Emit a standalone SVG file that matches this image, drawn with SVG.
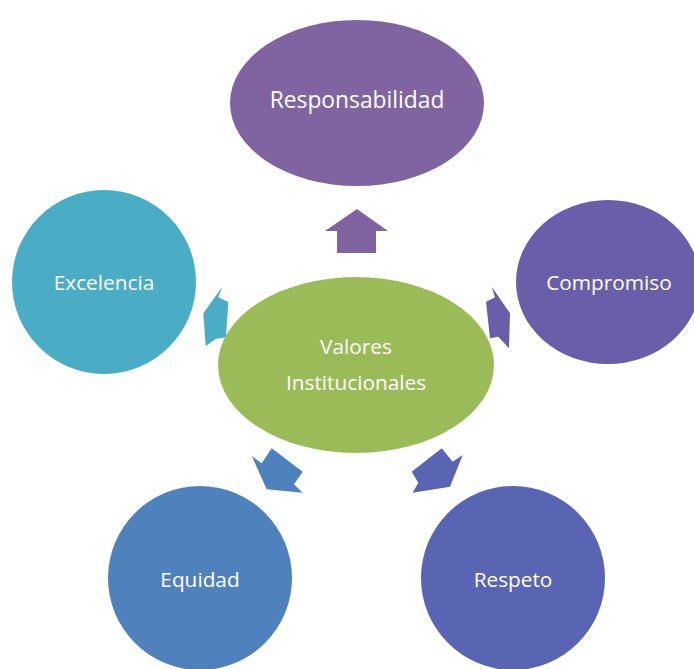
<svg xmlns="http://www.w3.org/2000/svg" width="694" height="669" viewBox="0 0 694 669">
  <style>
    .lbl { font-family: "Open Sans", "Liberation Sans", sans-serif; font-size: 20.8px; fill: #ffffff; text-anchor: middle; dominant-baseline: central; }
    .big { font-size: 22.8px; }
  </style>
  <rect width="694" height="669" fill="#ffffff"/>

  <!-- connectors: block arrows radiating from the centre -->
  <g id="connectors">
    <polygon fill="#8064A2" points="357,209 388,231 376,231 376,253 337,253 337,231 325,231"/>
    <polygon fill="#6A5DAA" points="491.7,286.7 495,297.3 486,301.7 490,338.3 498.3,336.7 509,348.3 510,313.3"/>
    <polygon fill="#4BACC6" points="222.3,286.7 218.3,297.3 228.3,302 226,337.3 216,338.7 205.7,346 203.3,313.3"/>
    <polygon fill="#4F81BD" points="271.7,448.3 302.7,471.7 294,484.3 302.7,492.7 266.7,489.3 251.7,456 261.7,463.3"/>
    <polygon fill="#5965B3" points="441.7,448.3 452.7,461.7 462.7,455 450,486.7 412.7,492.7 418.3,482.7 411.7,471.7"/>
  </g>

  <g id="responsabilidad">
    <ellipse cx="357" cy="103" rx="127" ry="83" fill="#8064A2"/>
    <text class="lbl big" x="357" y="99">Responsabilidad</text>
  </g>

  <g id="compromiso">
    <ellipse cx="608" cy="282" rx="92" ry="82" fill="#6A5DAA"/>
    <text class="lbl" x="609" y="282">Compromiso</text>
  </g>

  <g id="excelencia">
    <circle cx="104" cy="282" r="92" fill="#4BACC6"/>
    <text class="lbl" x="104" y="282">Excelencia</text>
  </g>

  <g id="equidad">
    <circle cx="200" cy="578" r="92" fill="#4F81BD"/>
    <text class="lbl" x="200" y="579">Equidad</text>
  </g>

  <g id="respeto">
    <circle cx="513" cy="578" r="92" fill="#5965B3"/>
    <text class="lbl" x="513" y="579">Respeto</text>
  </g>

  <g id="valores">
    <ellipse cx="356" cy="365" rx="138" ry="88" fill="#9BBB59"/>
    <text class="lbl" x="356" y="346">Valores</text>
    <text class="lbl" x="356" y="382">Institucionales</text>
  </g>
</svg>
